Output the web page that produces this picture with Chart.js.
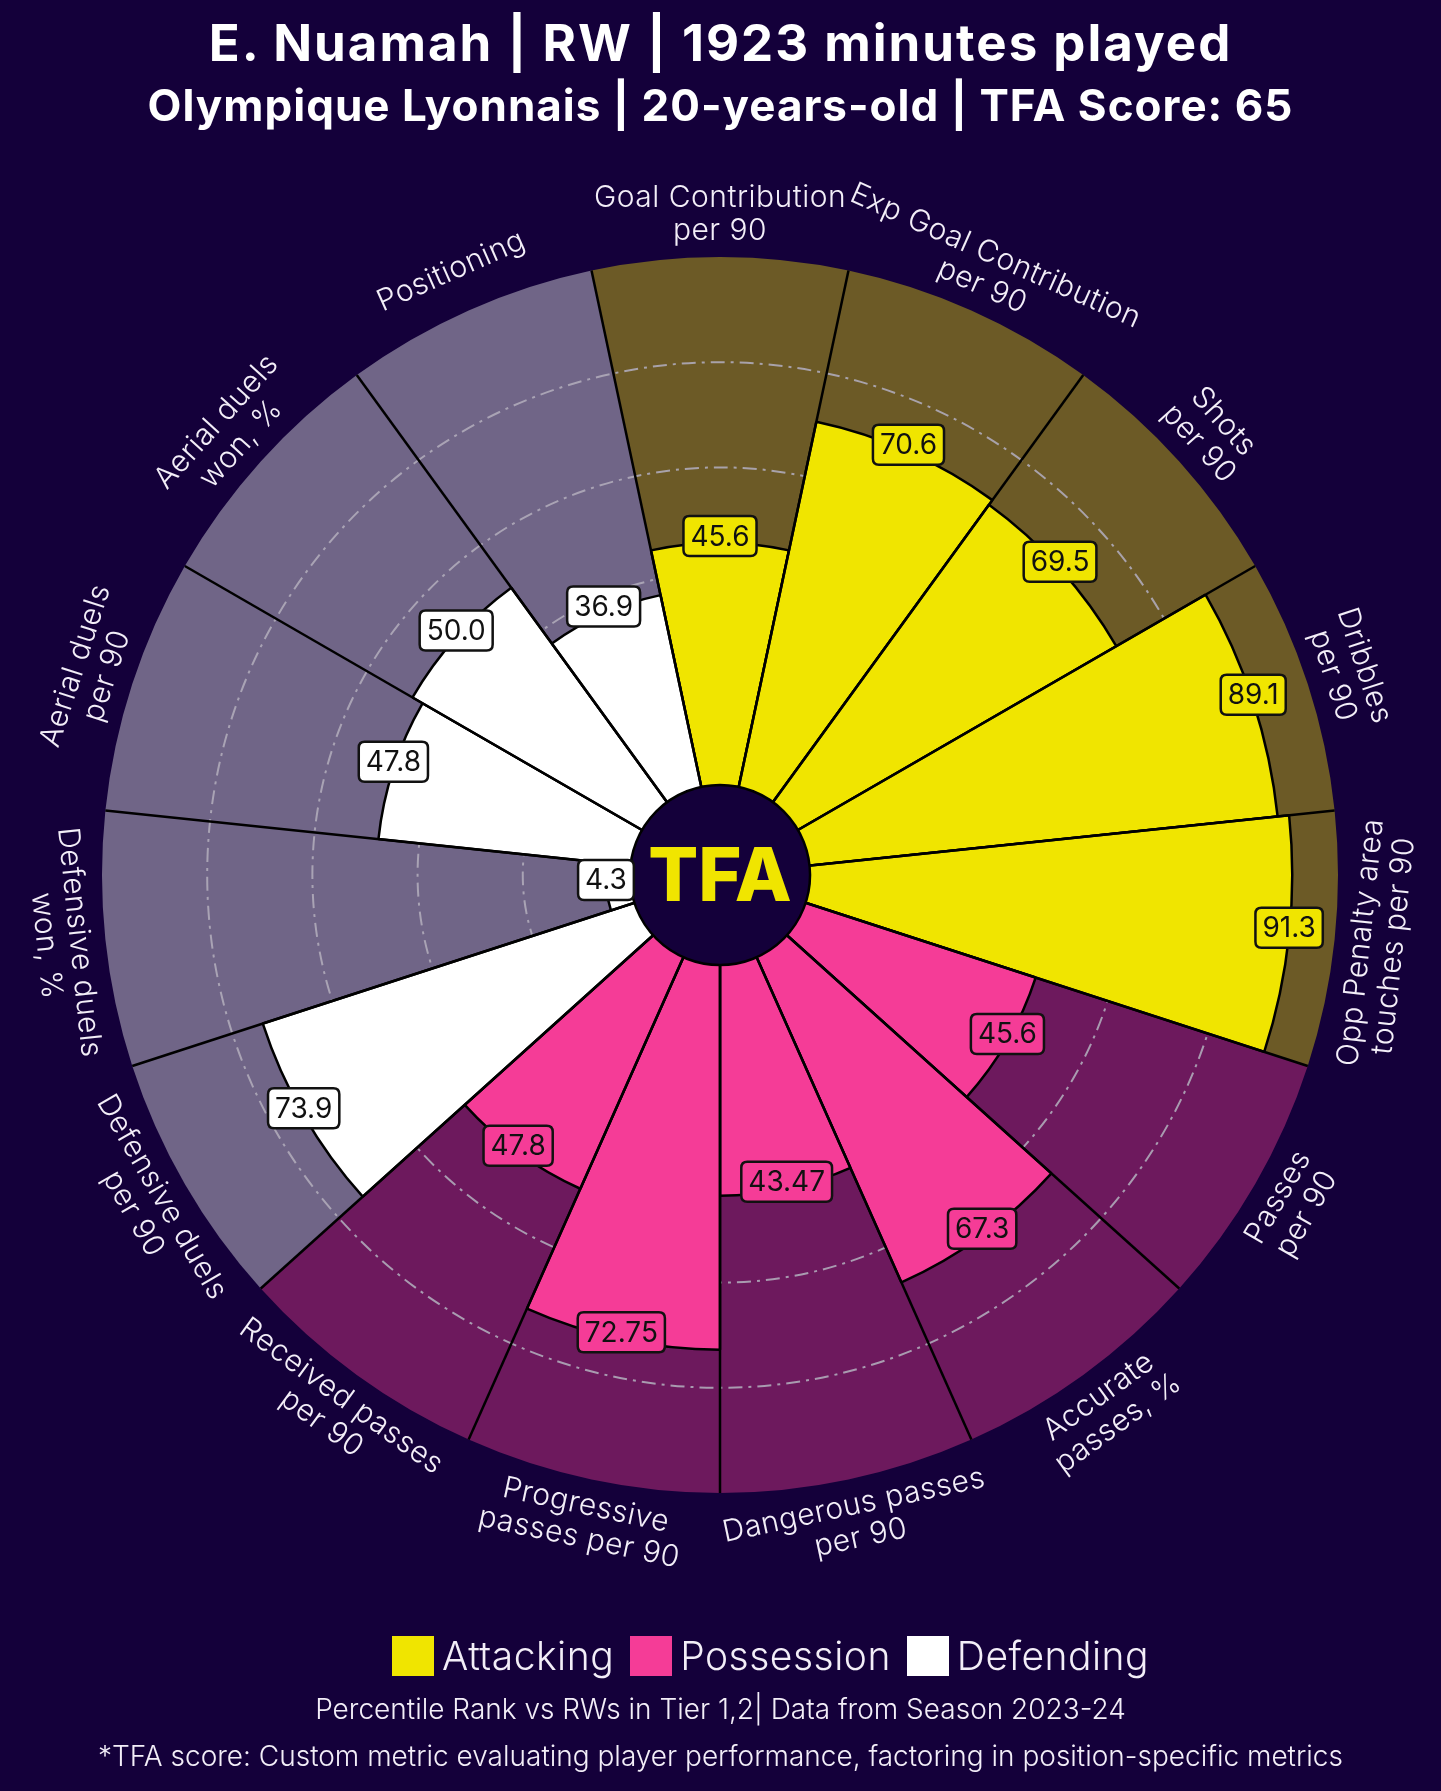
<!DOCTYPE html>
<html>
<head>
<meta charset="utf-8">
<script src="https://cdn.jsdelivr.net/npm/chart.js@4.4.1/dist/chart.umd.min.js"></script>
<style>
  body { margin: 0; background: #14003a; }
  #page { position: relative; width: 1441px; height: 1791px; background: #14003a; overflow: hidden; font-family: Inter, "Noto Sans", sans-serif; color: #fff; }
  #chartBox { position: absolute; left: 0; top: 0; width: 1441px; height: 1791px; }
  .line { position: absolute; left: 0; width: 1441px; text-align: center; white-space: nowrap; }
  #title { top: 13px; font-size: 51px; line-height: 60px; font-weight: 700; letter-spacing: 2px; }
  #subtitle { top: 78px; font-size: 44px; line-height: 54px; font-weight: 700; letter-spacing: 1px; }
  #legend { top: 1633px; height: 46px; display: flex; justify-content: center; align-items: center; transform: translateX(50px); }
  #legend .item { display: flex; align-items: center; margin: 0 8px; }
  #legend .swatch { width: 42px; height: 40px; margin-right: 8px; }
  #legend .text { font-size: 39px; line-height: 46px; font-weight: 300; color: #f3eef8; letter-spacing: 0.5px; }
  #note1 { top: 1692px; font-size: 28px; line-height: 34px; font-weight: 300; color: #f3eef8; }
  #note2 { top: 1739px; font-size: 28px; line-height: 34px; font-weight: 300; color: #f3eef8; }
</style>
</head>
<body>
<div id="page">
  <div id="chartBox"><canvas id="pizza"></canvas></div>
  <div class="line" id="title">E. Nuamah | RW | 1923 minutes played</div>
  <div class="line" id="subtitle">Olympique Lyonnais | 20-years-old | TFA Score: 65</div>
  <div class="line" id="legend"></div>
  <div class="line" id="note1">Percentile Rank vs RWs in Tier 1,2| Data from Season 2023-24</div>
  <div class="line" id="note2">*TFA score: Custom metric evaluating player performance, factoring in position-specific metrics</div>
</div>
<script>
// metrics, clockwise from the top
const metrics = [
  'Goal Contribution\nper 90',
  'Exp Goal Contribution\nper 90',
  'Shots\nper 90',
  'Dribbles\nper 90',
  'Opp Penalty area\ntouches per 90',
  'Passes\nper 90',
  'Accurate\npasses, %',
  'Dangerous passes\nper 90',
  'Progressive\npasses per 90',
  'Received passes\nper 90',
  'Defensive duels\nper 90',
  'Defensive duels\nwon, %',
  'Aerial duels\nper 90',
  'Aerial duels\nwon, %',
  'Positioning'
];
const percentiles = [45.6, 70.6, 69.5, 89.1, 91.3, 45.6, 67.3, 43.47, 72.75, 47.8, 73.9, 4.3, 47.8, 50.0, 36.9];
const groups = [
  'Attacking', 'Attacking', 'Attacking', 'Attacking', 'Attacking',
  'Possession', 'Possession', 'Possession', 'Possession', 'Possession',
  'Defending', 'Defending', 'Defending', 'Defending', 'Defending'
];
const fullScale = metrics.map(() => 100);
const ringTicks = [20, 40, 60, 80];

const groupNames = ['Attacking', 'Possession', 'Defending'];
const groupColor = { Attacking: '#f0e500', Possession: '#f53c97', Defending: '#ffffff' };
const groupShade = { Attacking: '#6c5a26', Possession: '#6d195d', Defending: '#706587' };
const BG = '#14003a';

// html legend
const legendEl = document.getElementById('legend');
groupNames.forEach((g) => {
  const item = document.createElement('div');
  item.className = 'item';
  item.innerHTML = '<div class="swatch" style="background:' + groupColor[g] + '"></div><div class="text">' + g + '</div>';
  legendEl.appendChild(item);
});

function fmt(v) {
  return Number.isInteger(v) ? v.toFixed(1) : String(v);
}

function sliceAngle(scale, i) {
  const TAU = Math.PI * 2;
  const a = scale.getIndexAngle(i) + Math.PI / metrics.length;
  return ((a % TAU) + TAU) % TAU;
}

// dash-dot rings, on top of the shaded slices but under the value bars
const rings = {
  id: 'rings',
  afterDatasetDraw(chart, args) {
    if (args.index !== 1) return;
    const scale = chart.scales.r;
    const ctx = chart.ctx;
    ctx.save();
    ctx.strokeStyle = 'rgba(175,170,185,0.9)';
    ctx.lineWidth = 2;
    ctx.setLineDash([14, 6, 3, 6]);
    ringTicks.forEach((t) => {
      ctx.beginPath();
      ctx.arc(scale.xCenter, scale.yCenter, scale.getDistanceFromCenterForValue(t), 0, Math.PI * 2);
      ctx.stroke();
    });
    ctx.restore();
  }
};

function roundBox(ctx, x, y, w, h, r) {
  ctx.beginPath();
  ctx.moveTo(x + r, y);
  ctx.lineTo(x + w - r, y);
  ctx.quadraticCurveTo(x + w, y, x + w, y + r);
  ctx.lineTo(x + w, y + h - r);
  ctx.quadraticCurveTo(x + w, y + h, x + w - r, y + h);
  ctx.lineTo(x + r, y + h);
  ctx.quadraticCurveTo(x, y + h, x, y + h - r);
  ctx.lineTo(x, y + r);
  ctx.quadraticCurveTo(x, y, x + r, y);
  ctx.closePath();
}

const decor = {
  id: 'decor',
  afterDraw(chart) {
    const scale = chart.scales.r;
    const ctx = chart.ctx;
    const cx = scale.xCenter, cy = scale.yCenter;

    // centre badge
    ctx.save();
    ctx.beginPath();
    ctx.arc(cx, cy, scale.getDistanceFromCenterForValue(0) - 2, 0, Math.PI * 2);
    ctx.fillStyle = BG;
    ctx.fill();
    ctx.lineWidth = 2.5;
    ctx.strokeStyle = '#000';
    ctx.stroke();
    ctx.fillStyle = groupColor.Attacking;
    ctx.font = '800 74px Inter';
    ctx.textAlign = 'center';
    ctx.textBaseline = 'middle';
    ctx.fillText('TFA', cx, cy + 4);
    ctx.restore();

    // metric names round the outside
    ctx.save();
    ctx.fillStyle = '#f3eef8';
    ctx.font = '300 30px Inter';
    ctx.letterSpacing = '0.5px';
    ctx.textAlign = 'center';
    ctx.textBaseline = 'middle';
    const labelR = scale.drawingArea + 43;
    metrics.forEach((m, i) => {
      const a = sliceAngle(scale, i);
      const p = scale.getPointPosition(i, labelR, Math.PI / metrics.length);
      const rot = (a > Math.PI / 2 && a < Math.PI * 1.5) ? a - Math.PI : a;
      const lines = m.split('\n');
      ctx.save();
      ctx.translate(p.x, p.y);
      ctx.rotate(rot);
      lines.forEach((ln, k) => {
        ctx.fillText(ln, 0, (k - (lines.length - 1) / 2) * 33);
      });
      ctx.restore();
    });
    ctx.restore();

    // value boxes
    ctx.save();
    ctx.font = '400 28px Inter';
    ctx.textAlign = 'center';
    ctx.textBaseline = 'middle';
    percentiles.forEach((v, i) => {
      const p = scale.getPointPosition(i, scale.getDistanceFromCenterForValue(v), Math.PI / metrics.length);
      const txt = fmt(v);
      const w = ctx.measureText(txt).width + 14;
      const h = 40;
      const x = p.x, y = p.y - 7;
      roundBox(ctx, x - w / 2, y - h / 2, w, h, 6);
      ctx.fillStyle = groupColor[groups[i]];
      ctx.fill();
      ctx.lineWidth = 2.5;
      ctx.strokeStyle = '#111';
      ctx.stroke();
      ctx.fillStyle = '#111';
      ctx.fillText(txt, x, y + 1);
    });
    ctx.restore();
  }
};

new Chart(document.getElementById('pizza'), {
  type: 'polarArea',
  data: {
    labels: metrics,
    datasets: [
      {
        label: 'Percentile',
        data: percentiles,
        backgroundColor: groups.map((g) => groupColor[g]),
        borderColor: '#000',
        borderWidth: 2.5
      },
      {
        label: 'Scale',
        data: fullScale,
        backgroundColor: groups.map((g) => groupShade[g]),
        borderWidth: 0
      }
    ]
  },
  options: {
    responsive: true,
    maintainAspectRatio: false,
    animation: false,
    layout: { padding: { left: 102, right: 103, top: 257, bottom: 298 } },
    plugins: { legend: { display: false }, tooltip: { enabled: false } },
    scales: {
      r: {
        min: -17.5,
        max: 100,
        startAngle: -12,
        ticks: { display: false },
        grid: { display: false, z: 1 },
        angleLines: { display: true, color: '#000', lineWidth: 2.5 },
        pointLabels: { display: false }
      }
    }
  },
  plugins: [rings, decor]
});
</script>
</body>
</html>
